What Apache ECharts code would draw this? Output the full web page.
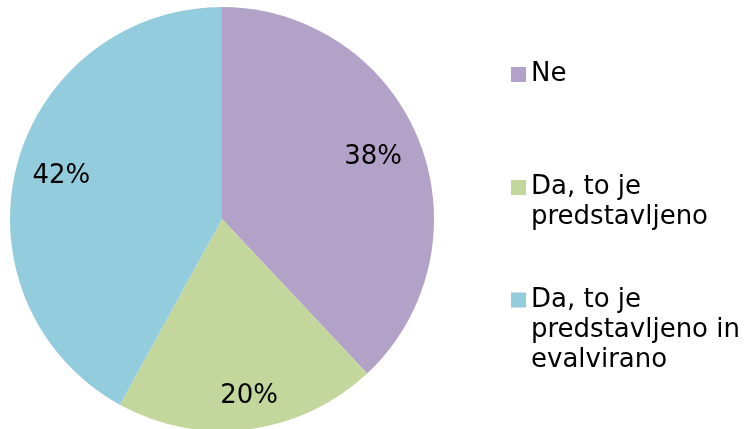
<!DOCTYPE html>
<html>
<head>
<meta charset="utf-8">
<script src="https://cdn.jsdelivr.net/npm/echarts@6/dist/echarts.min.js"></script>
<style>
html,body{margin:0;padding:0;background:#fff;}
#c{width:749px;height:429px;}
</style>
</head>
<body>
<div id="c"></div>
<script>
var categories = ['Ne', 'Da, to je\npredstavljeno', 'Da, to je\npredstavljeno in\nevalvirano'];
var values = [38, 20, 42];
var colors = ['#B3A2C7', '#C3D69B', '#93CDDD'];
var labelOffsets = [[-6, 0], [6, 10], [3, -1]];

var FONT = 'DejaVu Sans, Verdana, sans-serif';
var LH = 30;
var chart = echarts.init(document.getElementById('c'));

var mainData = categories.map(function (n, i) {
  return { name: n, value: values[i], itemStyle: { color: colors[i] } };
});
var labelData = categories.map(function (n, i) {
  return { name: n, value: values[i], label: { offset: labelOffsets[i] } };
});

// icon centre y for each legend entry
var iconCenters = [74.5, 187.5, 300];
var legends = categories.map(function (n, i) {
  var lines = n.split('\n').length;
  var total = 2 * lines - 1;
  return {
    orient: 'vertical',
    left: 506,
    top: iconCenters[i] - 5 - total * LH / 2,
    itemWidth: 15,
    itemHeight: 15,
    itemGap: 10,
    icon: 'rect',
    selectedMode: false,
    data: [n],
    formatter: function (name) {
      return new Array(lines).join('\n') + name;
    },
    textStyle: {
      fontFamily: FONT,
      fontSize: 26,
      color: '#000',
      lineHeight: LH
    }
  };
});

chart.setOption({
  animation: false,
  legend: legends,
  series: [
    {
      type: 'pie',
      center: [222, 219],
      radius: [0, 212],
      startAngle: 90,
      clockwise: true,
      silent: true,
      label: { show: false },
      labelLine: { show: false },
      itemStyle: { borderWidth: 0 },
      data: mainData
    },
    {
      type: 'pie',
      center: [222, 219],
      radius: [120, 212],
      startAngle: 90,
      clockwise: true,
      silent: true,
      legendHoverLink: false,
      itemStyle: { color: 'rgba(0,0,0,0)', borderWidth: 0 },
      label: {
        show: true,
        position: 'inside',
        formatter: '{c}%',
        fontFamily: FONT,
        fontSize: 26,
        color: '#000'
      },
      labelLine: { show: false },
      data: labelData
    }
  ]
});
</script>
</body>
</html>
